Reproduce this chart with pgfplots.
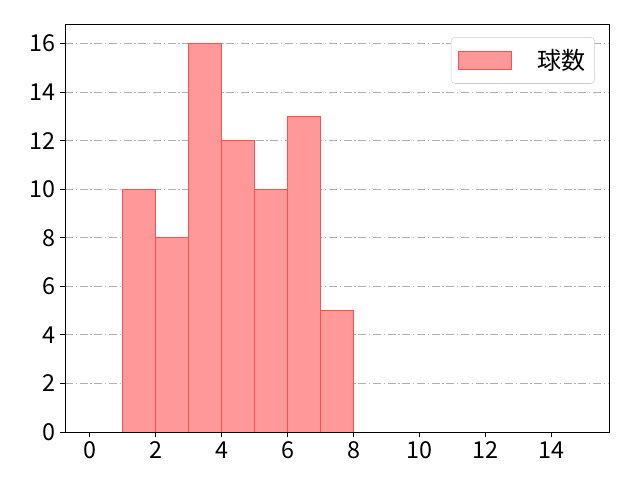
\documentclass[border=0pt]{standalone}
\usepackage{fontspec}
\setmainfont{Noto Sans CJK JP}
\usepackage{pgfplots}
\pgfplotsset{compat=1.18}
\usetikzlibrary{calc}
\definecolor{barfill}{RGB}{255,153,153}
\definecolor{baredge}{RGB}{255,80,80}
\definecolor{gridc}{RGB}{176,176,176}
\begin{document}
\begin{tikzpicture}
\begin{axis}[name=ax,
  scale only axis, width=408pt, height=306pt,
  xmin=-0.75, xmax=15.75, ymin=0, ymax=16.8,
  xtick={0,2,...,14}, ytick={0,2,...,16},
  tick align=outside, major tick length=3.6pt,
  tick style={black, line width=0.6pt},
  xtick pos=bottom, ytick pos=left,
  axis line style={line width=0.6pt},
  ymajorgrids, grid style={gridc, line width=0.6pt, dash pattern=on 6pt off 2pt on 1pt off 2pt},
  /pgf/number format/assume math mode=true,
  ticklabel style={font=\fontsize{17.5}{20}\selectfont},
  legend style={at={(0.974,0.968)}, anchor=north east, draw={rgb,255:red,204;green,204;blue,204}, rounded corners=3pt, font=\fontsize{18}{21}\selectfont, inner xsep=5pt, inner ysep=7pt, cells={anchor=west}},
  legend image code/.code={\fill[barfill, draw=baredge, line width=0.6pt, sharp corners] (0pt,-6.75pt) rectangle (40pt,6.75pt);},
  legend cell align=left,
]
\addplot[ybar interval, fill=barfill, draw=baredge, line width=0.7pt] coordinates {(1,10) (2,8) (3,16) (4,12) (5,10) (6,13) (7,5) (8,5)};
\addlegendentry{\hspace{17pt}球数}
\end{axis}
\path[use as bounding box] ($(ax.south west)+(-48.75pt,-36pt)$) rectangle ($(ax.north east)+(23.25pt,18pt)$);
\end{tikzpicture}
\end{document}
